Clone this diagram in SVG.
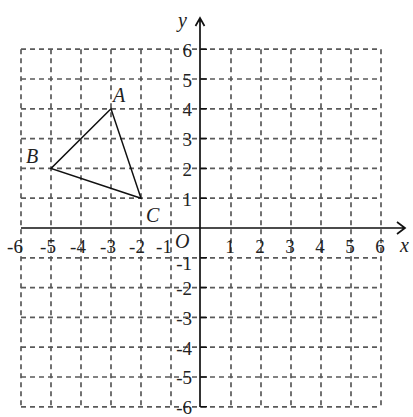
<svg xmlns="http://www.w3.org/2000/svg" width="413" height="417" viewBox="0 0 413 417">
<defs>
<style>
.grid{stroke:#5a5a5a;stroke-width:1.7;stroke-dasharray:5 4;fill:none}
.axis{stroke:#111;stroke-width:1.7;fill:none}
.tick{stroke:#111;stroke-width:1.5}
.num{font-family:"Liberation Serif","DejaVu Serif",serif;font-size:19px;fill:#222}
.lbl{font-family:"Liberation Serif","DejaVu Serif",serif;font-size:20px;font-style:italic;fill:#222}
.tri{stroke:#111;stroke-width:1.5;fill:none}
</style>
</defs>
<rect width="413" height="417" fill="#fff"/>
<g id="grid">
<path class="grid" d="M21 49.2H381M21 79H381M21 108.8H381M21 138.6H381M21 168.4H381M21 198.2H381M21 257.8H381M21 287.6H381M21 317.4H381M21 347.2H381M21 377H381M21 406.8H381"/>
<path class="grid" d="M21 49.2V406.8M51 49.2V406.8M81 49.2V406.8M111 49.2V406.8M141 49.2V406.8M171 49.2V406.8M231 49.2V406.8M261 49.2V406.8M291 49.2V406.8M321 49.2V406.8M351 49.2V406.8M381 49.2V406.8"/>
</g>
<g id="axes">
<path class="axis" d="M21 228H405M397 222L405 228L397 234"/>
<path class="axis" d="M200 407V18M195.5 26L200 18L204.5 26"/>
<path class="tick" d="M200 49.2h7M200 79h7M200 108.8h7M200 138.6h7M200 168.4h7M200 198.2h7M200 257.8h7M200 287.6h7M200 317.4h7M200 347.2h7M200 377h7M200 406.8h7"/>
</g>
<g id="y-labels" class="num" text-anchor="end">
<text x="192" y="57">6</text>
<text x="192" y="87">5</text>
<text x="192" y="116">4</text>
<text x="192" y="146">3</text>
<text x="192" y="176">2</text>
<text x="192" y="206">1</text>
<text x="192" y="270">-1</text>
<text x="192" y="295">-2</text>
<text x="192" y="325">-3</text>
<text x="192" y="355">-4</text>
<text x="192" y="384">-5</text>
<text x="192" y="414">-6</text>
</g>
<g id="x-labels" class="num" text-anchor="middle">
<text x="15" y="253">-6</text>
<text x="48" y="253">-5</text>
<text x="78" y="253">-4</text>
<text x="108" y="253">-3</text>
<text x="137" y="253">-2</text>
<text x="164" y="253">-1</text>
<text x="230" y="253">1</text>
<text x="260" y="253">2</text>
<text x="290" y="253">3</text>
<text x="320" y="253">4</text>
<text x="350" y="253">5</text>
<text x="380" y="253">6</text>
</g>
<g id="origin"><text class="lbl" x="175" y="248">O</text></g>
<g id="axis-names">
<text class="lbl" x="178" y="27">y</text>
<text class="lbl" x="400" y="252">x</text>
</g>
<g id="triangle">
<path class="tri" d="M111 108.8L51 168.4L141 198.2Z"/>
</g>
<g id="A"><text class="lbl" x="113" y="102">A</text></g>
<g id="B"><text class="lbl" x="26" y="163">B</text></g>
<g id="C"><text class="lbl" x="146" y="222">C</text></g>
</svg>
